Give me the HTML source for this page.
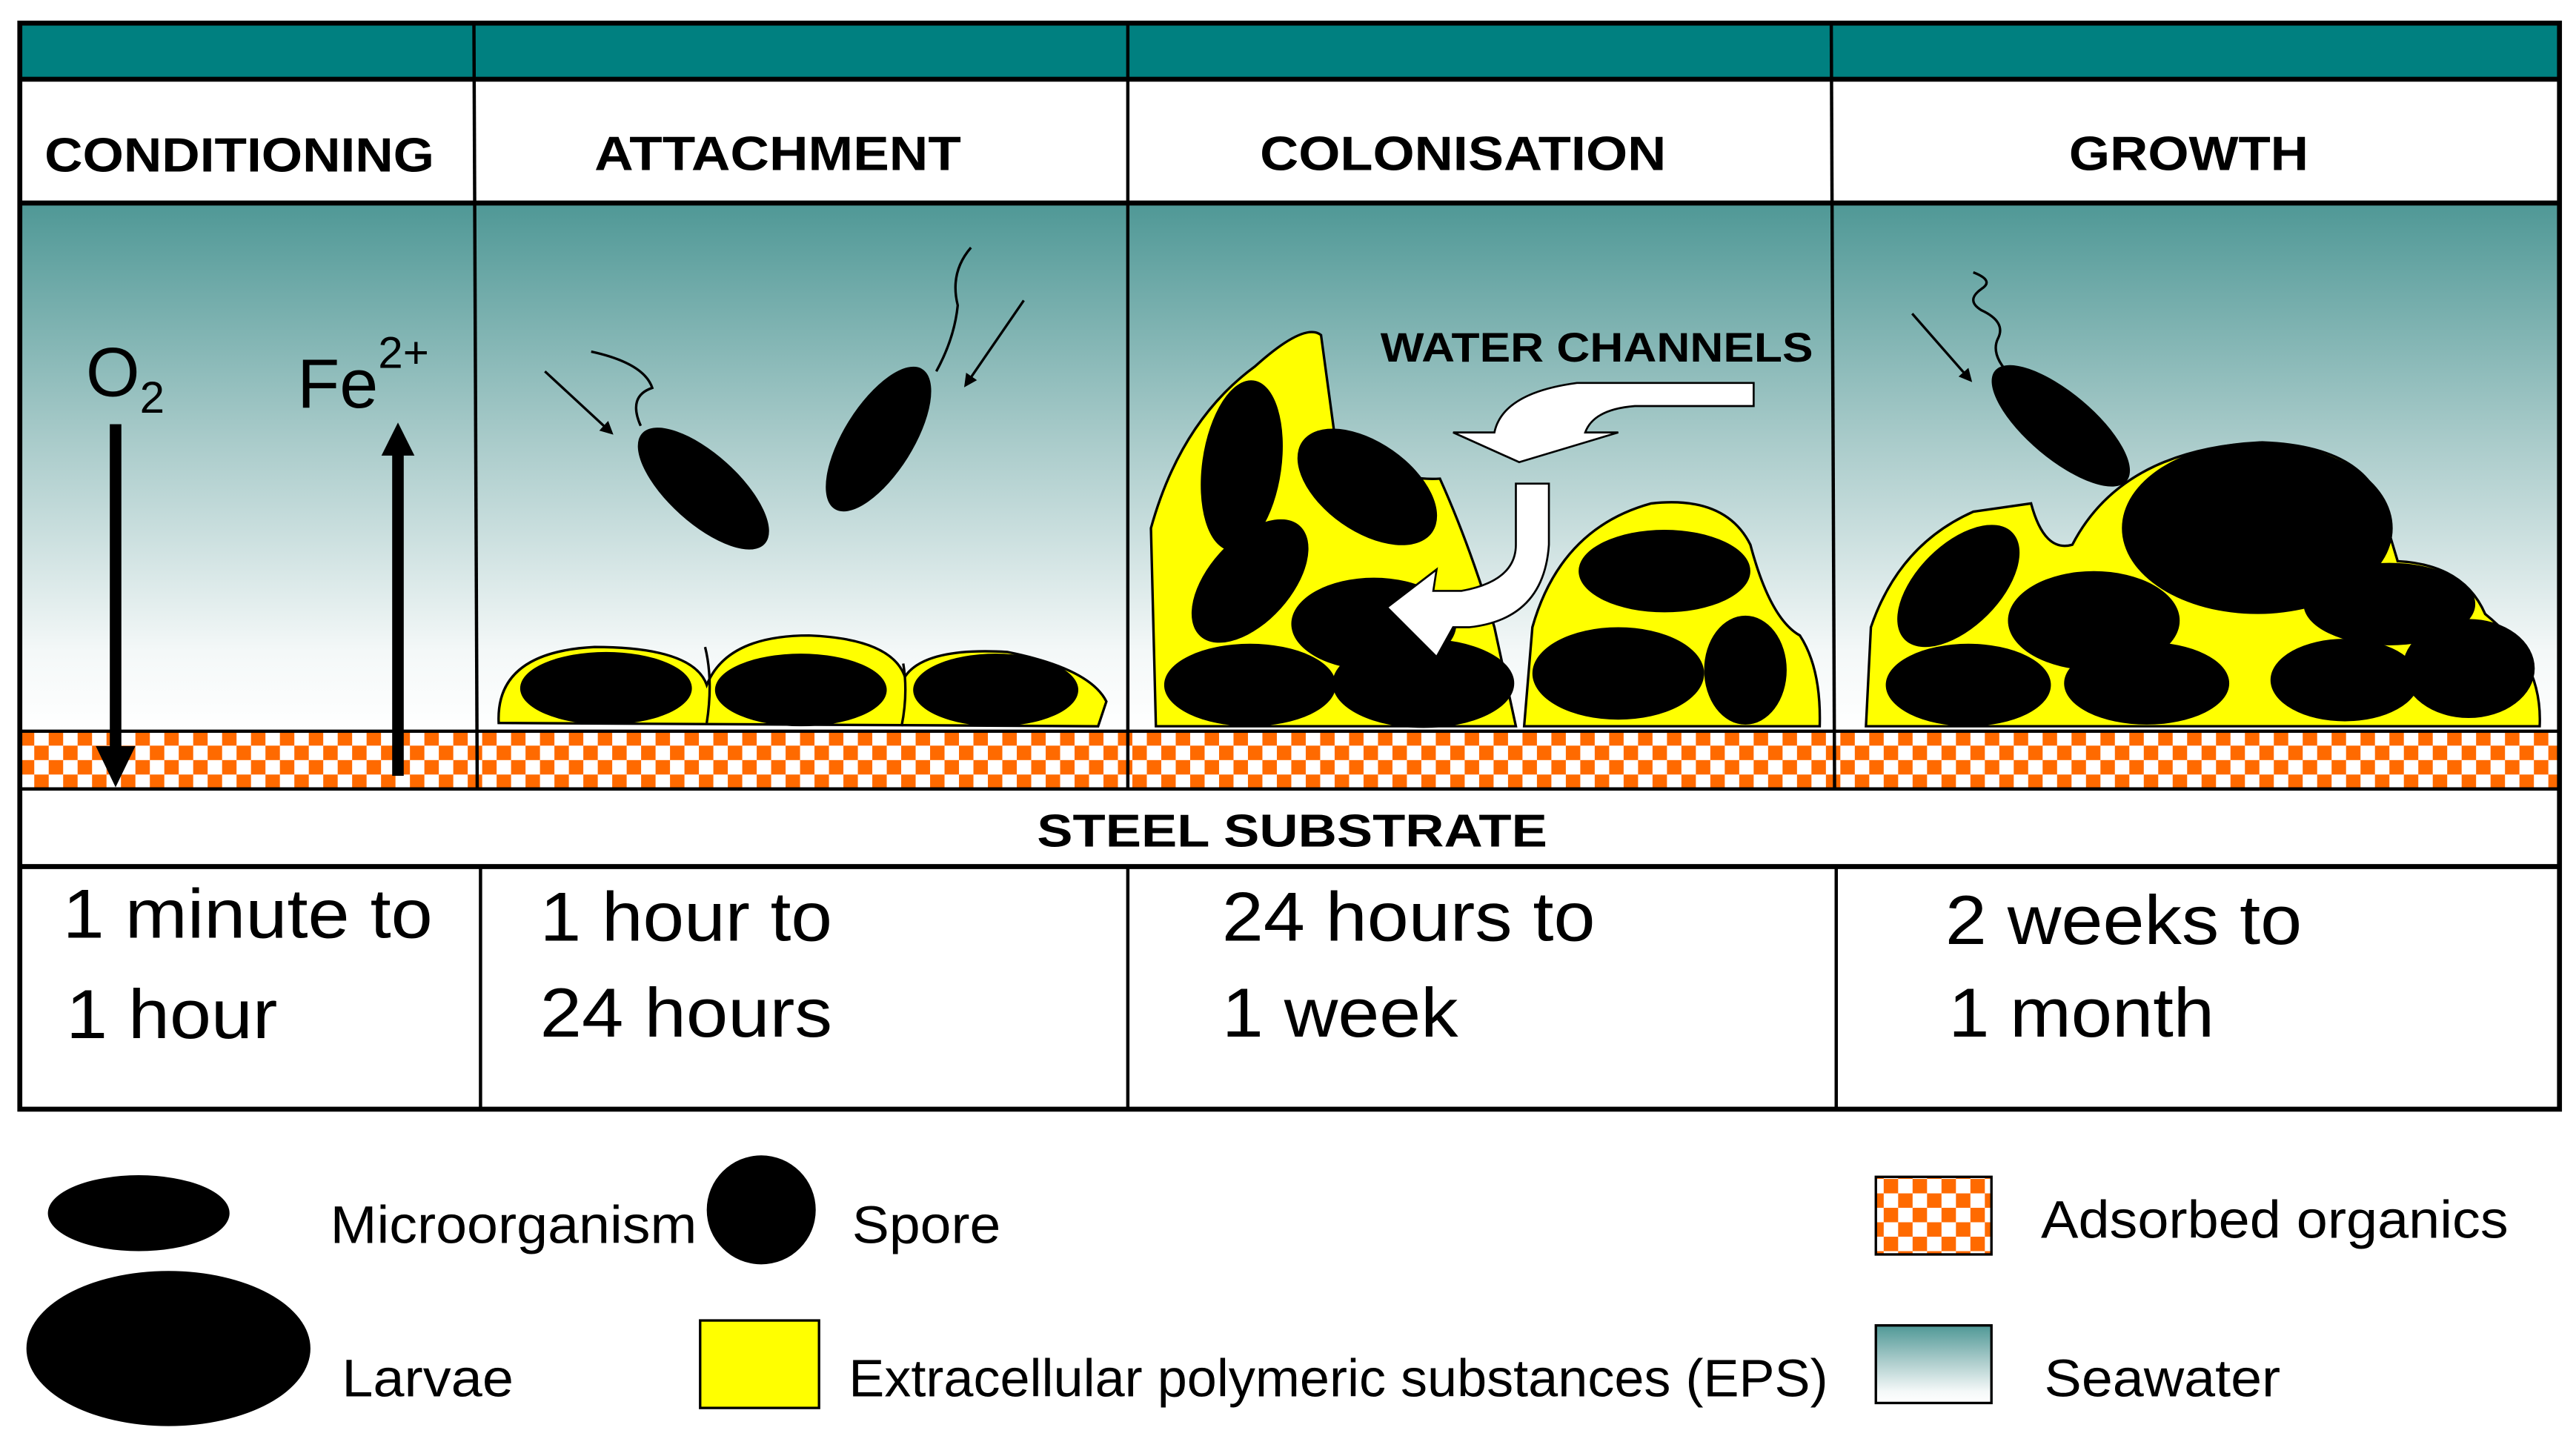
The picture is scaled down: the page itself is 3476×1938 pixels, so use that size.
<!DOCTYPE html>
<html><head><meta charset="utf-8"><style>html,body{margin:0;padding:0;background:#fff}svg{display:block}</style></head>
<body>
<svg width="3476" height="1938" viewBox="0 0 1560 870" preserveAspectRatio="none" xmlns="http://www.w3.org/2000/svg" font-family="Liberation Sans, sans-serif">
<defs>
<linearGradient id="sea" x1="0" y1="0" x2="0" y2="1">
<stop offset="0" stop-color="#4f9896"/><stop offset="0.45" stop-color="#a9cbca"/><stop offset="0.85" stop-color="#f4f8f8"/><stop offset="1" stop-color="#ffffff"/></linearGradient>
<pattern id="chk" x="12" y="443" width="17.5" height="17.5" patternUnits="userSpaceOnUse">
<rect width="17.5" height="17.5" fill="#fff"/><rect width="8.75" height="8.75" fill="#ff6a00"/><rect x="8.75" y="8.75" width="8.75" height="8.75" fill="#ff6a00"/></pattern>
<marker id="ah" markerWidth="8" markerHeight="8" refX="6" refY="4" orient="auto" markerUnits="userSpaceOnUse"><path d="M0,0 L8,4 L0,8 Z" fill="#000"/></marker>
</defs>
<rect x="12" y="14" width="1538" height="34" fill="#008080"/>
<rect x="12" y="48" width="1538" height="75" fill="#fff"/>
<rect x="12" y="123" width="1538" height="320" fill="url(#sea)"/>
<rect x="12" y="443" width="1538" height="35" fill="url(#chk)"/>
<rect x="12" y="478" width="1538" height="194" fill="#fff"/>
<g stroke="#000" fill="none">
<rect x="12" y="14" width="1538" height="658" stroke-width="3"/>
<line x1="12" y1="48" x2="1550" y2="48" stroke-width="3"/>
<line x1="12" y1="123" x2="1550" y2="123" stroke-width="3"/>
<line x1="12" y1="443" x2="1550" y2="443" stroke-width="2"/>
<line x1="12" y1="478" x2="1550" y2="478" stroke-width="2"/>
<line x1="12" y1="525" x2="1550" y2="525" stroke-width="3"/>
<line x1="287" y1="14" x2="289" y2="478" stroke-width="2"/>
<line x1="683" y1="14" x2="683" y2="478" stroke-width="2"/>
<line x1="1109" y1="14" x2="1111" y2="478" stroke-width="2"/>
<line x1="291" y1="525" x2="291" y2="672" stroke-width="2"/>
<line x1="683" y1="525" x2="683" y2="672" stroke-width="2"/>
<line x1="1112" y1="525" x2="1112" y2="672" stroke-width="2"/>
</g>
<g font-weight="bold" font-size="29" lengthAdjust="spacingAndGlyphs">
<text x="27" y="104" textLength="236" lengthAdjust="spacingAndGlyphs">CONDITIONING</text>
<text x="360" y="103" textLength="222" lengthAdjust="spacingAndGlyphs">ATTACHMENT</text>
<text x="763" y="103" textLength="246" lengthAdjust="spacingAndGlyphs">COLONISATION</text>
<text x="1253" y="103" textLength="145" lengthAdjust="spacingAndGlyphs">GROWTH</text>
<text x="628" y="513" font-size="28" textLength="309" lengthAdjust="spacingAndGlyphs">STEEL SUBSTRATE</text>
<text x="836" y="219" font-size="25" textLength="262" lengthAdjust="spacingAndGlyphs">WATER CHANNELS</text>
</g>
<text x="52" y="240" font-size="42">O<tspan font-size="27" dy="10">2</tspan></text>
<text x="180" y="247" font-size="42">Fe<tspan font-size="27" dy="-24">2+</tspan></text>
<line x1="70" y1="257" x2="70" y2="455" stroke="#000" stroke-width="7"/>
<path d="M58,452 L82,452 L70,477 Z"/>
<line x1="241" y1="470" x2="241" y2="272" stroke="#000" stroke-width="7"/>
<path d="M231,276 L251,276 L241,256 Z"/>
<g stroke="#000" stroke-width="1.5">
<path d="M302,438 Q300,395 360,392 Q420,392 428,415 Q440,385 490,385 Q540,387 548,410 Q560,392 610,395 Q660,405 670,425 L665,440 Z" fill="#ffff00"/>
</g>
<ellipse cx="367" cy="417" rx="52" ry="22"/>
<ellipse cx="485" cy="418" rx="52" ry="22"/>
<ellipse cx="603" cy="418" rx="50" ry="22"/>
<path d="M427,392 Q432,412 428,438 M547,402 Q550,420 546,440" stroke="#000" stroke-width="1.5" fill="none"/>
<ellipse cx="426" cy="296" rx="50" ry="21" transform="rotate(42 426 296)"/>
<ellipse cx="532" cy="266" rx="50" ry="21" transform="rotate(-58 532 266)"/>
<g stroke="#000" stroke-width="1.5" fill="none">
<path d="M388,258 Q380,240 395,235 Q390,220 358,213"/>
<path d="M567,225 Q578,205 580,185 Q575,165 588,150"/>
<line x1="330" y1="225" x2="370" y2="262" marker-end="url(#ah)"/>
<line x1="620" y1="182" x2="585" y2="233" marker-end="url(#ah)"/>
<path d="M1218,228 Q1205,215 1210,205 Q1215,195 1200,188 Q1190,182 1200,175 Q1208,170 1195,165"/>
<line x1="1158" y1="190" x2="1193" y2="230" marker-end="url(#ah)"/>
</g>
<g stroke="#000" stroke-width="1.5" fill="#ffff00">
<path d="M700,440 L697,320 Q715,255 760,222 Q790,195 800,203 L808,262 Q835,292 872,290 Q890,330 905,380 L918,440 Z"/>
<path d="M923,440 L928,380 Q945,320 1000,305 Q1045,300 1060,330 Q1072,375 1090,385 Q1103,405 1102,440 Z"/>
<path d="M1130,440 L1133,380 Q1150,330 1195,310 L1230,305 Q1238,335 1255,330 Q1285,272 1370,268 Q1425,270 1440,300 L1452,340 Q1492,342 1505,372 Q1540,400 1538,440 Z"/>
</g>
<g>
<ellipse cx="752" cy="282" rx="24" ry="52" transform="rotate(8 752 282)"/>
<ellipse cx="828" cy="295" rx="48" ry="27" transform="rotate(35 828 295)"/>
<ellipse cx="757" cy="352" rx="25" ry="45" transform="rotate(42 757 352)"/>
<ellipse cx="832" cy="378" rx="50" ry="28"/>
<ellipse cx="757" cy="415" rx="52" ry="25"/>
<ellipse cx="862" cy="414" rx="55" ry="27"/>
<ellipse cx="1008" cy="346" rx="52" ry="25"/>
<ellipse cx="980" cy="408" rx="52" ry="28"/>
<ellipse cx="1057" cy="406" rx="25" ry="33"/>
<ellipse cx="1367" cy="320" rx="82" ry="52"/>
<ellipse cx="1186" cy="355" rx="25" ry="46" transform="rotate(45 1186 355)"/>
<ellipse cx="1268" cy="376" rx="52" ry="30"/>
<ellipse cx="1447" cy="366" rx="52" ry="25"/>
<ellipse cx="1192" cy="415" rx="50" ry="25"/>
<ellipse cx="1300" cy="414" rx="50" ry="25"/>
<ellipse cx="1420" cy="412" rx="45" ry="25"/>
<ellipse cx="1495" cy="405" rx="40" ry="30"/>
<ellipse cx="1248" cy="258" rx="52" ry="20" transform="rotate(40 1248 258)"/>
</g>
<g fill="#fff" stroke="#000" stroke-width="1.2">
<path d="M1062,232 L1062,246 L990,246 Q965,248 960,262 L980,262 L920,280 L880,262 L905,262 Q910,238 955,232 Z"/>
<path d="M918,293 L938,293 L938,330 Q935,375 890,380 L880,380 L870,398 L840,368 L870,345 L868,358 L885,358 Q918,352 918,330 Z"/>
</g>
<g font-size="42" lengthAdjust="spacingAndGlyphs">
<text x="38" y="568" textLength="224" lengthAdjust="spacingAndGlyphs">1 minute to</text><text x="40" y="629" textLength="128" lengthAdjust="spacingAndGlyphs">1 hour</text>
<text x="327" y="570" textLength="177" lengthAdjust="spacingAndGlyphs">1 hour to</text><text x="327" y="628" textLength="177" lengthAdjust="spacingAndGlyphs">24 hours</text>
<text x="740" y="570" textLength="226" lengthAdjust="spacingAndGlyphs">24 hours to</text><text x="740" y="628" textLength="143" lengthAdjust="spacingAndGlyphs">1 week</text>
<text x="1178" y="572" textLength="216" lengthAdjust="spacingAndGlyphs">2 weeks to</text><text x="1180" y="628" textLength="161" lengthAdjust="spacingAndGlyphs">1 month</text>
</g>
<ellipse cx="84" cy="735" rx="55" ry="23"/>
<circle cx="461" cy="733" r="33"/>
<ellipse cx="102" cy="817" rx="86" ry="47"/>
<rect x="424" y="800" width="72" height="53" fill="#ffff00" stroke="#000" stroke-width="1.5"/>
<rect x="1136" y="713" width="70" height="47" fill="url(#chk)" stroke="#000" stroke-width="1.5"/>
<rect x="1136" y="803" width="70" height="47" fill="url(#sea)" stroke="#000" stroke-width="1.5"/>
<g font-size="32">
<text x="200" y="753" textLength="222" lengthAdjust="spacingAndGlyphs">Microorganism</text>
<text x="516" y="753" textLength="90" lengthAdjust="spacingAndGlyphs">Spore</text>
<text x="207" y="846" textLength="104" lengthAdjust="spacingAndGlyphs">Larvae</text>
<text x="514" y="846" textLength="593" lengthAdjust="spacingAndGlyphs">Extracellular polymeric substances (EPS)</text>
<text x="1236" y="750" textLength="283" lengthAdjust="spacingAndGlyphs">Adsorbed organics</text>
<text x="1238" y="846" textLength="143" lengthAdjust="spacingAndGlyphs">Seawater</text>
</g>
</svg>
</body></html>
